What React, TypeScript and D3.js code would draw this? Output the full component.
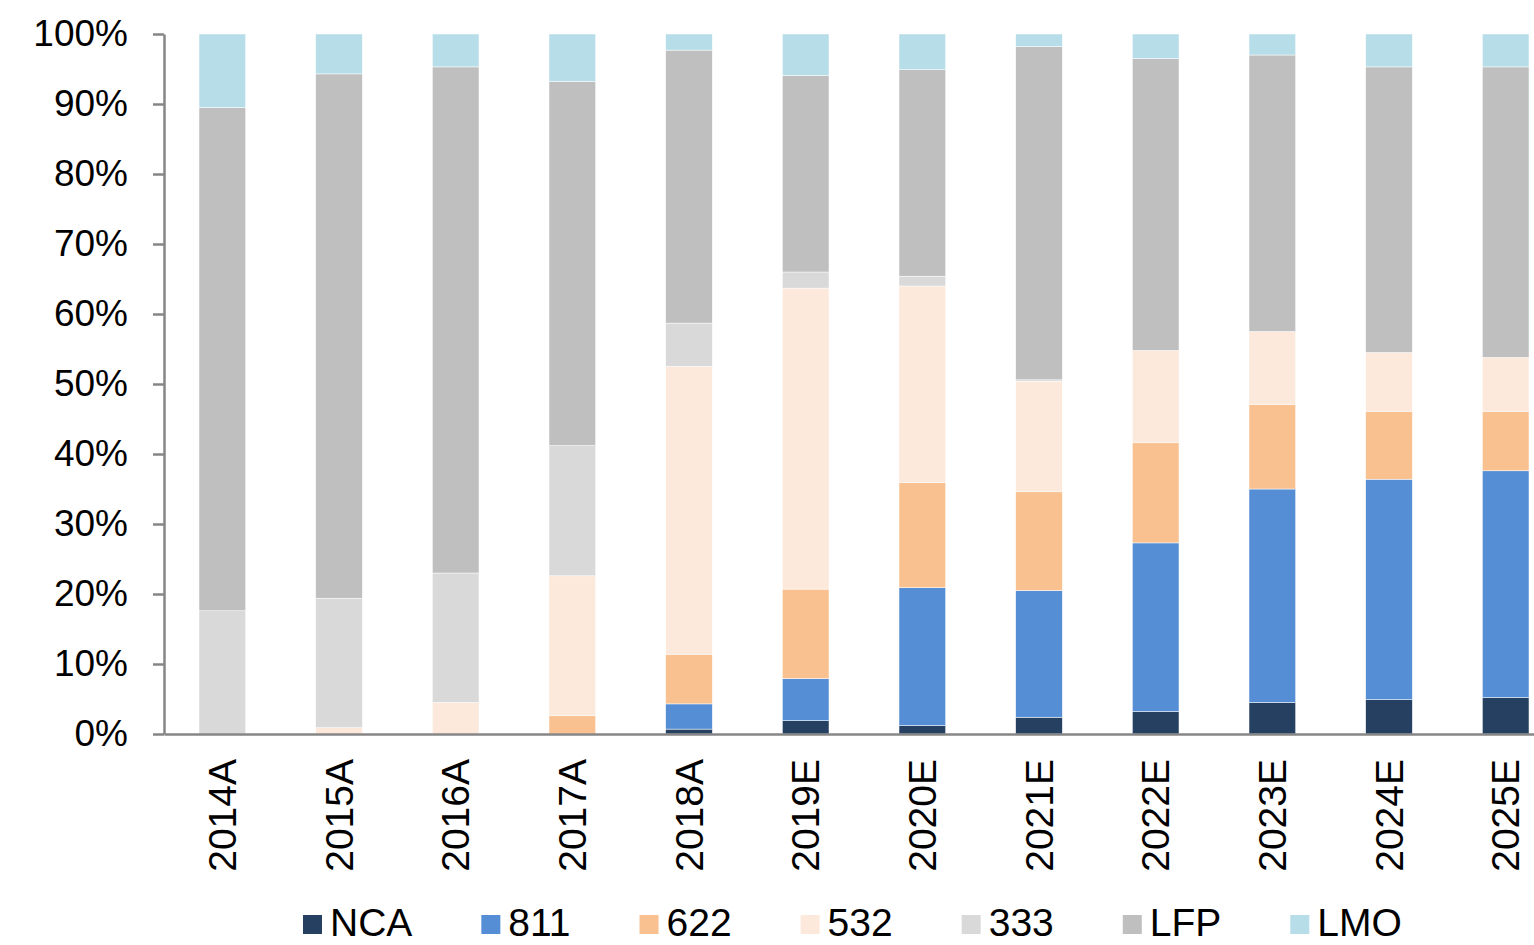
import React, { useEffect, useRef } from 'react';
import * as d3 from 'd3';

const WIDTH = 1534;
const HEIGHT = 945;

const categories = ['2014A', '2015A', '2016A', '2017A', '2018A', '2019E', '2020E', '2021E', '2022E', '2023E', '2024E', '2025E'];
const seriesNames = ['NCA', '811', '622', '532', '333', 'LFP', 'LMO'];
const colors = ['#254061', '#558ED5', '#F9C090', '#FCE9DB', '#D9D9D9', '#BFBFBF', '#B7DEE8'];

// share of each chemistry, %
const nca = [0, 0, 0, 0, 0.7, 1.9, 1.2, 2.4, 3.2, 4.5, 4.9, 5.2];
const n811 = [0, 0, 0, 0, 3.6, 6.0, 19.7, 18.1, 24.1, 30.5, 31.5, 32.4];
const n622 = [0, 0, 0, 2.6, 7.1, 12.8, 15.0, 14.1, 14.3, 12.1, 9.7, 8.5];
const n532 = [0, 0.9, 4.5, 20.0, 41.1, 43.0, 28.1, 15.8, 13.2, 10.4, 8.4, 7.7];
const n333 = [17.6, 18.5, 18.5, 18.6, 6.2, 2.3, 1.4, 0.2, 0, 0, 0, 0];
const lfp = [71.9, 74.9, 72.3, 52.0, 39.0, 28.1, 29.5, 47.6, 41.7, 39.5, 40.8, 41.5];
const lmo = [10.5, 5.7, 4.7, 6.8, 2.3, 5.9, 5.1, 1.8, 3.5, 3.0, 4.7, 4.7];

const yTicks = [0, 10, 20, 30, 40, 50, 60, 70, 80, 90, 100];

const FONT = '"Liberation Sans", Arial, sans-serif';
const AXIS = '#868686';

export default function App() {
  const svgRef = useRef<SVGSVGElement>(null);

  useEffect(() => {
    const svg = d3.select(svgRef.current);
    svg.selectAll('*').remove();

    const allSeries = [nca, n811, n622, n532, n333, lfp, lmo];
    const table = categories.map((c, i) => {
      const row: any = { cat: c };
      seriesNames.forEach((s, j) => { row[s] = allSeries[j][i]; });
      return row;
    });

    const x = d3.scaleBand().domain(categories).range([164, 1564]).paddingInner(0.6).paddingOuter(0.3);
    const y = d3.scaleLinear().domain([0, 100]).range([734, 34]);
    const color = d3.scaleOrdinal<string>().domain(seriesNames).range(colors);

    const stacked = d3.stack().keys(seriesNames)(table);

    svg.append('g')
      .selectAll('g')
      .data(stacked)
      .join('g')
      .attr('fill', d => color(d.key))
      .selectAll('rect')
      .data(d => d.map((v, i) => ({ v, cat: categories[i] })))
      .join('rect')
      .attr('x', d => x(d.cat)!)
      .attr('width', x.bandwidth())
      .attr('y', d => y(d.v[1]))
      .attr('height', d => y(d.v[0]) - y(d.v[1]))
      .attr('stroke', '#fff')
      .attr('stroke-width', 0.5);

    // y axis
    const yAxis = svg.append('g')
      .attr('transform', 'translate(164,0)')
      .call(d3.axisLeft(y).tickValues(yTicks).tickFormat(d => `${d}%`).tickSize(11).tickSizeOuter(0).tickPadding(25));
    yAxis.select('.domain').attr('stroke', AXIS).attr('stroke-width', 2.5);
    yAxis.selectAll('.tick line').attr('stroke', AXIS).attr('stroke-width', 2.5);
    yAxis.selectAll('.tick text')
      .attr('fill', '#000')
      .attr('font-family', FONT)
      .attr('font-size', 37);

    // x axis
    const xAxis = svg.append('g')
      .attr('transform', 'translate(0,734)')
      .call(d3.axisBottom(x).tickSize(0).tickSizeOuter(0).tickPadding(0));
    xAxis.select('.domain').attr('stroke', AXIS).attr('stroke-width', 2.5);
    xAxis.selectAll('.tick text')
      .attr('fill', '#000')
      .attr('font-family', FONT)
      .attr('font-size', 39)
      .attr('text-anchor', 'end')
      .attr('transform', 'translate(0,25) rotate(-90)')
      .attr('x', 0)
      .attr('y', 0)
      .attr('dy', '0.35em');

    // legend
    const legend = svg.append('g');
    let lx = 303;
    seriesNames.forEach((s, i) => {
      legend.append('rect')
        .attr('x', lx).attr('y', 915)
        .attr('width', 19).attr('height', 19)
        .attr('fill', colors[i]);
      const t = legend.append('text')
        .attr('x', lx + 27).attr('y', 936)
        .attr('font-family', FONT)
        .attr('font-size', 39)
        .attr('fill', '#000')
        .text(s);
      const w = (t.node() as SVGTextElement).getComputedTextLength();
      lx += 27 + w + 69;
    });
  }, []);

  return (
    <svg
      ref={svgRef}
      xmlns="http://www.w3.org/2000/svg"
      width={WIDTH}
      height={HEIGHT}
      style={{ position: 'absolute', left: 0, top: 0, display: 'block', background: '#fff' }}
    />
  );
}
